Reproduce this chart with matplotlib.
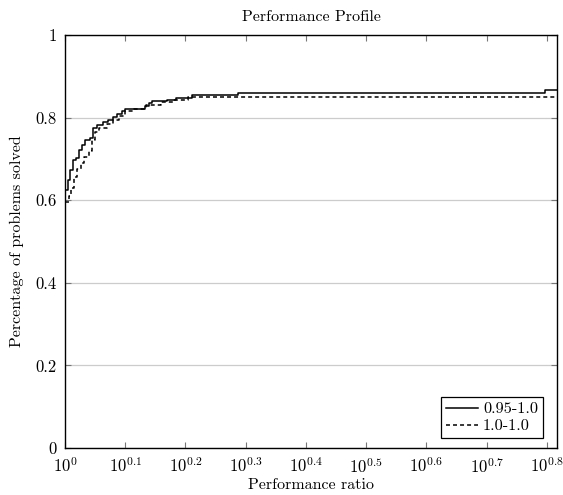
import numpy as np
import matplotlib
matplotlib.use("Agg")
import matplotlib.pyplot as plt

plt.rcParams["font.family"] = "serif"
plt.rcParams["font.serif"] = ["cmr10"]
plt.rcParams["mathtext.fontset"] = "cm"
plt.rcParams["axes.formatter.use_mathtext"] = True

# log10 of performance ratio, fraction solved (step points)
log_a = [0, 0.005, 0.008, 0.013, 0.018, 0.023, 0.028, 0.033, 0.041, 0.046,
         0.053, 0.063, 0.071, 0.079, 0.086, 0.094, 0.100, 0.132, 0.140, 0.145,
         0.170, 0.185, 0.210, 0.287, 0.797, 0.8168]
y_a = [0.625, 0.649, 0.673, 0.697, 0.702, 0.722, 0.734, 0.746, 0.751, 0.775,
       0.782, 0.789, 0.794, 0.801, 0.809, 0.816, 0.821, 0.828, 0.835, 0.840,
       0.843, 0.847, 0.855, 0.859, 0.866, 0.866]

log_b = [0, 0.006, 0.010, 0.015, 0.020, 0.026, 0.032, 0.040, 0.045, 0.050,
         0.056, 0.070, 0.080, 0.090, 0.100, 0.115, 0.135, 0.160, 0.180, 0.205,
         0.8168]
y_b = [0.595, 0.61, 0.63, 0.655, 0.675, 0.69, 0.705, 0.72, 0.745, 0.765,
       0.775, 0.785, 0.795, 0.805, 0.815, 0.82, 0.83, 0.838, 0.843, 0.85,
       0.85]

xticks = [0, 0.1, 0.2, 0.3, 0.4, 0.5, 0.6, 0.7, 0.8]
yticks = [0, 0.2, 0.4, 0.6, 0.8, 1]

fig = plt.figure(figsize=(5.63, 4.95), dpi=100)
ax = fig.add_axes([0.1155, 0.0949, 0.8738, 0.8344])

ax.plot(10 ** np.array(log_a), y_a, drawstyle="steps-post", color="black",
        lw=1.1, label="0.95-1.0")
ax.plot(10 ** np.array(log_b), y_b, drawstyle="steps-post", color="black",
        lw=1.1, ls=(0, (2.6, 2.0)), label="1.0-1.0")

ax.set_xscale("log")
ax.set_xlim(1, 10 ** 0.8168)
ax.set_ylim(0, 1)
ax.minorticks_off()
ax.set_xticks([10 ** t for t in xticks])
ax.set_xticklabels(["$10^{0}$"] + ["$10^{%.1f}$" % t for t in xticks[1:]])
ax.set_yticks(yticks)
ax.set_yticklabels(["0", "0.2", "0.4", "0.6", "0.8", "1"])
ax.tick_params(direction="in", top=True, right=True, length=4, width=0.8,
               color="#777777", labelsize=12)
ax.tick_params(axis="x", pad=6)
ax.tick_params(axis="y", pad=6)

ax.grid(axis="y", color="#cccccc", lw=0.9)
ax.set_axisbelow(True)
for s in ax.spines.values():
    s.set_color("black")
    s.set_linewidth(1.0)

ax.set_title("Performance Profile", fontsize=11.5, pad=10)
ax.set_xlabel("Performance ratio", fontsize=11.5, labelpad=2)
ax.set_ylabel("Percentage of problems solved", fontsize=11.5, labelpad=8)

leg = ax.legend(loc="lower right", bbox_to_anchor=(0.9715, 0.024),
                fontsize=11.7, fancybox=False, edgecolor="black",
                framealpha=1, handlelength=2.0, handletextpad=0.3,
                borderaxespad=0, labelspacing=0.15, borderpad=0.3)
leg.get_frame().set_linewidth(0.9)

fig.savefig("out.png", dpi=100)
